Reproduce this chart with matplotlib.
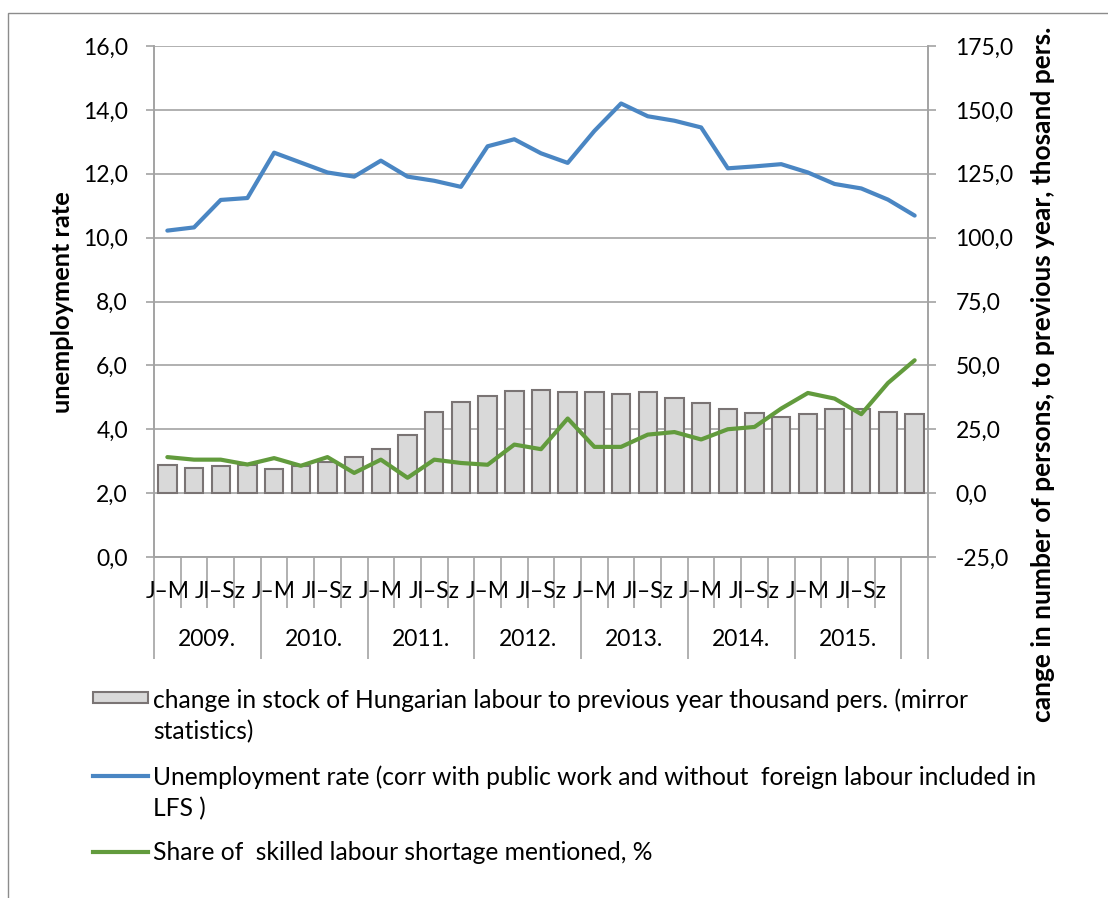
import numpy as np
import matplotlib
matplotlib.use("Agg")
import matplotlib.pyplot as plt
import matplotlib.transforms as mtransforms
from matplotlib.patches import Rectangle
from matplotlib.lines import Line2D
from matplotlib.ticker import FuncFormatter, FixedLocator

plt.rcParams['font.family'] = ['Lato', 'DejaVu Sans']

# --- data ---
years = ['2009.', '2010.', '2011.', '2012.', '2013.', '2014.', '2015.']
quarter_labels = ['J–M', '', 'Jl–Sz', ''] * 7 + ['']

# change in stock of Hungarian labour, thousand pers. (right axis)
labour_change = [11.1, 10.0, 10.7, 10.9, 9.6, 10.5, 12.2, 14.2, 17.4, 22.7,
                 31.8, 35.7, 38.2, 40.0, 40.5, 39.6, 39.5, 38.9, 39.6, 37.2,
                 35.4, 32.9, 31.5, 29.7, 31.1, 33.1, 32.8, 31.8, 30.9]
# unemployment rate, % (left axis)
unemployment = [10.22, 10.32, 11.18, 11.24, 12.66, 12.35, 12.04, 11.91, 12.41, 11.91,
                11.78, 11.59, 12.86, 13.08, 12.64, 12.34, 13.34, 14.20, 13.80, 13.66,
                13.45, 12.17, 12.23, 12.30, 12.04, 11.68, 11.54, 11.19, 10.69]
# share of skilled labour shortage mentioned, % (right axis)
shortage = [14.1, 13.1, 13.1, 11.2, 13.7, 10.7, 14.1, 7.9, 13.1, 6.0,
            13.1, 11.8, 11.1, 19.0, 17.2, 29.2, 18.1, 18.1, 22.9, 23.9,
            21.0, 25.0, 25.9, 33.1, 39.2, 37.0, 30.9, 43.1, 52.0]

# legend text, already wrapped the way the reference wraps it
legend_lines = [
    ["change in stock of Hungarian labour to previous year thousand pers. (mirror", "statistics)"],
    ["Unemployment rate (corr with public work and without  foreign labour included in", "LFS )"],
    ["Share of  skilled labour shortage mentioned, %"],
]

BLUE = '#4a86c3'
GREEN = '#629b3d'
BAR_FC = '#d9d9d9'
BAR_EC = '#7a7474'
GRID = '#a3a3a3'

W, H = 1108, 898
fig = plt.figure(figsize=(W / 100, H / 100), dpi=100)

# chart-area border
fig.add_artist(Rectangle((8 / W, -0.1), 1.2, 1 - 13 / H + 0.1, transform=fig.transFigure,
                         fill=False, ec='#8c8c8c', lw=1.0))

ax = fig.add_axes([154 / W, 1 - 557 / H, (928 - 154) / W, (557 - 46) / H])
ax2 = ax.twinx()

n = len(labour_change)
x = np.arange(n)

ax2.bar(x, labour_change, width=0.69, color=BAR_FC, edgecolor=BAR_EC, linewidth=1.5, zorder=2)
ax2.plot(x, shortage, color=GREEN, lw=3.0, solid_capstyle='round', zorder=3)
ax.plot(x, unemployment, color=BLUE, lw=3.0, solid_capstyle='round', zorder=3)

comma = FuncFormatter(lambda v, p: f"{v:.1f}".replace('.', ','))

ax.set_xlim(-0.5, n - 0.5)
ax.set_ylim(0, 16)
ax.set_yticks(np.arange(0, 16.1, 2))
ax.yaxis.set_major_formatter(comma)
ax2.set_ylim(-25, 175)
ax2.set_yticks(np.arange(-25, 175.1, 25))
ax2.yaxis.set_major_formatter(comma)

ax.yaxis.grid(True, color=GRID, lw=1.2)
ax.set_axisbelow(True)

for a in (ax, ax2):
    a.spines['top'].set_visible(False)
    for s in ('left', 'right', 'bottom'):
        a.spines[s].set_color(GRID)
        a.spines[s].set_linewidth(1.2)

ax.tick_params(axis='y', length=5.8, width=1.2, color=GRID, pad=13, labelsize=16.5, labelcolor='black')
ax2.tick_params(axis='y', length=5.8, width=1.2, color=GRID, pad=14, labelsize=16.5, labelcolor='black')

# multi-level category axis: short ticks between quarters, long ones between years
year_bounds = list(np.arange(-0.5, n, 4)) + [n - 0.5]
quarter_bounds = [b for b in np.arange(-0.5, n, 1) if b not in year_bounds]
ax.xaxis.set_major_locator(FixedLocator(year_bounds))
ax.xaxis.set_minor_locator(FixedLocator(quarter_bounds))
ax.tick_params(axis='x', which='major', length=73.4, width=1.2, color=GRID, labelbottom=False)
ax.tick_params(axis='x', which='minor', length=36.7, width=1.2, color=GRID, labelbottom=False)

tr = mtransforms.blended_transform_factory(ax.transData, fig.transFigure)
for i, lab in enumerate(quarter_labels):
    if lab:
        ax.text(i, 1 - 592 / H, lab, transform=tr, ha='center', va='center', fontsize=16.5)
for k, yr in enumerate(years):
    ax.text(4 * k + 1.5, 1 - 639 / H, yr, transform=tr, ha='center', va='center', fontsize=16.5)

fig.text(62 / W, 1 - 302 / H, 'unemployment rate', rotation=90, ha='center', va='center',
         fontsize=18.3, fontweight='bold')
fig.text(1043 / W, 1 - 374 / H, 'cange in number of persons, to previous year, thosand pers.',
         rotation=90, ha='center', va='center', fontsize=19, fontweight='bold')

# legend, drawn by hand so the key sits on the first line of each entry
fig.add_artist(Rectangle((93 / W, 1 - 703 / H), 55 / W, 11 / H, transform=fig.transFigure,
                         fc=BAR_FC, ec=BAR_EC, lw=1.5))
fig.add_artist(Line2D([93 / W, 148 / W], [1 - 776 / H] * 2, transform=fig.transFigure,
                      color=BLUE, lw=3.0))
fig.add_artist(Line2D([93 / W, 148 / W], [1 - 852 / H] * 2, transform=fig.transFigure,
                      color=GREEN, lw=3.0))
for lines, y0 in zip(legend_lines, [700, 777, 852]):
    for j, line in enumerate(lines):
        fig.text(153 / W, 1 - (y0 + 32 * j) / H, line, ha='left', va='center', fontsize=17.7)

fig.savefig('out.png', dpi=100)
